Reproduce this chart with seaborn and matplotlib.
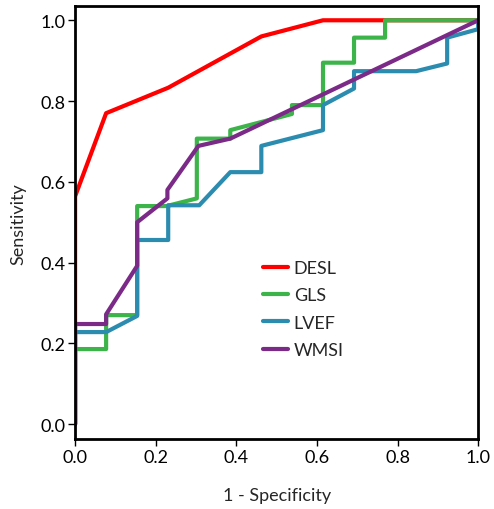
import matplotlib
matplotlib.use("Agg")
import matplotlib.pyplot as plt
import pandas as pd
import seaborn as sns

# ROC points (1 - specificity, sensitivity)
desl_fpr = [0.0, 0.0, 0.077, 0.231, 0.462, 0.615, 1.0]
desl_tpr = [0.0, 0.564, 0.770, 0.833, 0.960, 1.0, 1.0]

gls_fpr = [0.0, 0.0, 0.077, 0.077, 0.154, 0.154, 0.227, 0.302, 0.302, 0.385,
           0.385, 0.538, 0.538, 0.615, 0.615, 0.692, 0.692, 0.769, 0.769, 1.0]
gls_tpr = [0.0, 0.186, 0.186, 0.270, 0.270, 0.540, 0.540, 0.559, 0.707, 0.707,
           0.728, 0.768, 0.790, 0.790, 0.895, 0.895, 0.957, 0.957, 1.0, 1.0]

lvef_fpr = [0.0, 0.0, 0.077, 0.154, 0.154, 0.231, 0.231, 0.308, 0.385, 0.462,
            0.462, 0.615, 0.615, 0.692, 0.692, 0.846, 0.923, 0.923, 1.0, 1.0]
lvef_tpr = [0.0, 0.228, 0.228, 0.268, 0.456, 0.456, 0.542, 0.542, 0.624, 0.624,
            0.689, 0.728, 0.790, 0.831, 0.874, 0.874, 0.893, 0.957, 0.978, 1.0]

wmsi_fpr = [0.0, 0.0, 0.077, 0.077, 0.154, 0.154, 0.229, 0.229, 0.306, 0.385, 1.0]
wmsi_tpr = [0.0, 0.248, 0.248, 0.272, 0.392, 0.500, 0.559, 0.580, 0.689, 0.707, 1.0]

markers = ["DESL", "GLS", "LVEF", "WMSI"]
colors = ["#ff0000", "#3cb44a", "#2b8cb0", "#7b2a88"]

curves = {
    "DESL": (desl_fpr, desl_tpr),
    "GLS": (gls_fpr, gls_tpr),
    "LVEF": (lvef_fpr, lvef_tpr),
    "WMSI": (wmsi_fpr, wmsi_tpr),
}

frames = []
for name in markers:
    fpr, tpr = curves[name]
    frames.append(pd.DataFrame({"fpr": fpr, "tpr": tpr, "marker": name}))
df = pd.concat(frames, ignore_index=True)

sns.set_style("ticks")
plt.rcParams["font.family"] = ["Lato", "DejaVu Sans"]

fig = plt.figure(figsize=(4.94, 5.10), dpi=100)
ax = fig.add_axes([0.152, 0.137, 0.816, 0.849])

sns.lineplot(
    data=df, x="fpr", y="tpr", hue="marker", hue_order=markers,
    palette=dict(zip(markers, colors)), sort=False, estimator=None,
    linewidth=3, ax=ax,
)

ax.set_xlim(0, 1.0)
ax.set_ylim(-0.037, 1.035)
ticks = [0.0, 0.2, 0.4, 0.6, 0.8, 1.0]
ax.set_xticks(ticks)
ax.set_yticks(ticks)
ax.set_xticklabels([f"{v:.1f}" for v in ticks])
ax.set_yticklabels([f"{v:.1f}" for v in ticks])
ax.tick_params(labelsize=13, length=5, width=1, direction="out", colors="black", pad=2)
ax.set_xlabel("1 - Specificity", fontsize=13, labelpad=16)
ax.set_ylabel("Sensitivity", fontsize=13, labelpad=10)
for side in ax.spines.values():
    side.set_linewidth(2)
    side.set_color("black")

ax.legend(
    loc="upper left", bbox_to_anchor=(0.466, 0.413), frameon=False,
    fontsize=13, handlelength=1.4, handletextpad=0.3, labelspacing=0.62,
    borderpad=0, borderaxespad=0,
)

fig.savefig("out.png", dpi=100)
